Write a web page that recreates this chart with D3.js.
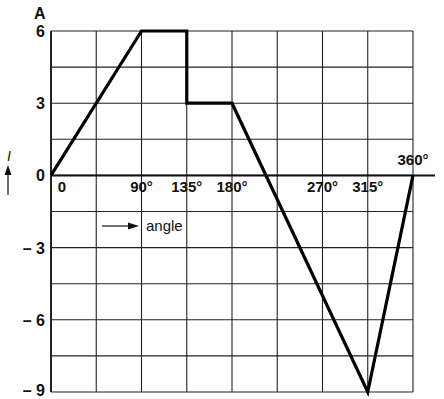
<!DOCTYPE html>
<html>
<head>
<meta charset="utf-8">
<script src="https://cdn.jsdelivr.net/npm/d3@7"></script>
<style>
  body { margin: 0; background: #fff; }
  text { font-family: "Liberation Sans", Arial, sans-serif; font-weight: bold; fill: #111; }
</style>
</head>
<body>
<div id="chart"></div>
<script>
// Data___________________________________________
const angles = [0, 90, 135, 135, 180, 315, 360];
const current = [0, 6, 6, 3, 3, -9, 0];
const xGrid = [0, 45, 90, 135, 180, 225, 270, 315, 360];
const yGrid = [-9, -7.5, -6, -4.5, -3, -1.5, 0, 1.5, 3, 4.5, 6];
const yTicks = [6, 3, 0, -3, -6, -9];
const yTickLabels = ['6', '3', '0', '\u2013 3', '\u2013 6', '\u2013 9'];
const xTicks = [90, 135, 180, 270, 315];
const xTickLabels = ['90°', '135°', '180°', '270°', '315°'];

// Scales_________________________________________
const width = 444, height = 399;
const x = d3.scaleLinear().domain([0, 360]).range([51, 413]);
const y = d3.scaleLinear().domain([-9, 6]).range([392, 31]);

const svg = d3.select('#chart')
    .append('svg')
    .attr('width', width)
    .attr('height', height);

// Grid___________________________________________
svg.append('g')
    .selectAll('line')
    .data(xGrid)
    .enter()
    .append('line')
    .attr('x1', d => x(d)).attr('x2', d => x(d))
    .attr('y1', y(6)).attr('y2', y(-9))
    .attr('stroke', '#222')
    .attr('stroke-width', d => d === 0 ? 2 : 1.1);

svg.append('g')
    .selectAll('line')
    .data(yGrid)
    .enter()
    .append('line')
    .attr('x1', x(0)).attr('x2', x(360))
    .attr('y1', d => y(d)).attr('y2', d => y(d))
    .attr('stroke', '#222')
    .attr('stroke-width', 1.1);

// zero axis runs past the grid
svg.append('line')
    .attr('x1', x(0)).attr('x2', x(360) + 22)
    .attr('y1', y(0)).attr('y2', y(0))
    .attr('stroke', '#111')
    .attr('stroke-width', 2);

// Y labels_______________________________________
svg.append('g')
    .selectAll('text')
    .data(yTicks)
    .enter()
    .append('text')
    .attr('x', 45)
    .attr('y', d => Math.min(y(d) + 6, height - 3))
    .attr('text-anchor', 'end')
    .style('font-size', '16px')
    .text((d, i) => yTickLabels[i]);

svg.append('text')
    .attr('x', 34).attr('y', 19)
    .style('font-size', '16px')
    .text('A');

// X labels_______________________________________
svg.append('g')
    .selectAll('text')
    .data(xTicks)
    .enter()
    .append('text')
    .attr('x', d => x(d))
    .attr('y', y(0) + 17)
    .attr('text-anchor', 'middle')
    .style('font-size', '15px')
    .text((d, i) => xTickLabels[i]);

svg.append('text')
    .attr('x', x(0) + 11).attr('y', y(0) + 17)
    .attr('text-anchor', 'middle')
    .style('font-size', '15px')
    .text('0');

svg.append('text')
    .attr('x', x(360)).attr('y', y(0) - 10)
    .attr('text-anchor', 'middle')
    .style('font-size', '15px')
    .text('360°');

// angle arrow
svg.append('line')
    .attr('x1', 102).attr('x2', 132)
    .attr('y1', 226).attr('y2', 226)
    .attr('stroke', '#111').attr('stroke-width', 1.2);
svg.append('path')
    .attr('d', 'M139,226 L128,222.5 L128,229.5 Z')
    .attr('fill', '#111');
svg.append('text')
    .attr('x', 146).attr('y', 231)
    .style('font-size', '15px')
    .style('font-weight', 'normal')
    .text('angle');

// I arrow
svg.append('text')
    .attr('x', 9).attr('y', 161)
    .attr('text-anchor', 'middle')
    .style('font-size', '14px')
    .style('font-style', 'italic')
    .style('font-weight', 'normal')
    .text('I');
svg.append('line')
    .attr('x1', 8).attr('x2', 8)
    .attr('y1', 195).attr('y2', 172)
    .attr('stroke', '#111').attr('stroke-width', 1.2);
svg.append('path')
    .attr('d', 'M8,165 L4.5,175 L11.5,175 Z')
    .attr('fill', '#111');

// Current line___________________________________
const line = d3.line()
    .x(d => x(d[0]))
    .y(d => y(d[1]));

svg.append('path')
    .datum(angles.map((a, i) => [a, current[i]]))
    .attr('d', line)
    .attr('fill', 'none')
    .attr('stroke', '#000')
    .attr('stroke-width', 3.2)
    .attr('stroke-linejoin', 'miter');
</script>
</body>
</html>
